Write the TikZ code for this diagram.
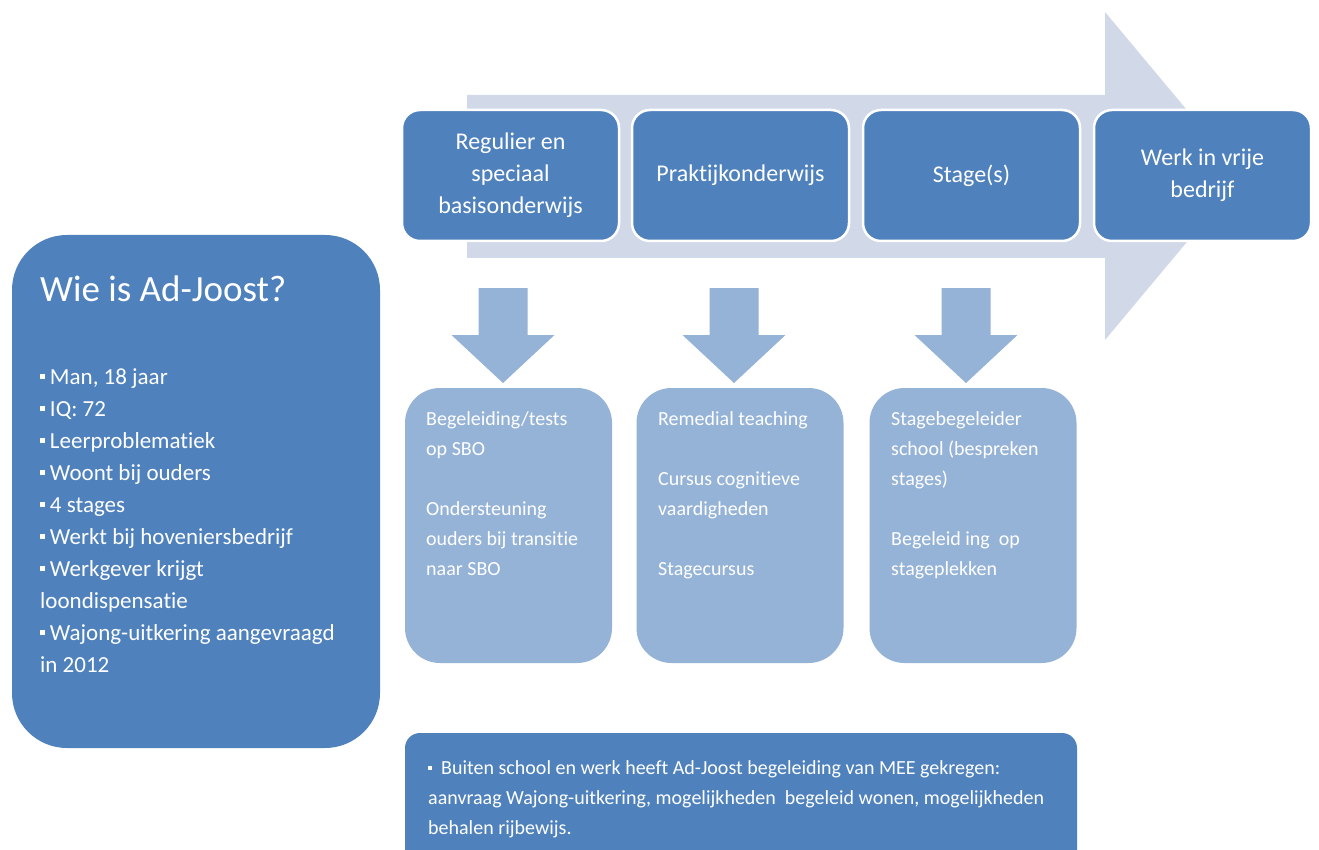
\documentclass[tikz,border=0pt]{standalone}
\usepackage{fontspec}
\setmainfont{Carlito}[Ligatures=NoCommon]
\definecolor{dkblue}{HTML}{4F81BD}
\definecolor{ltblue}{HTML}{95B3D7}
\definecolor{bgarrow}{HTML}{D1D9E8}
\newcommand\mybul{\raisebox{0.22em}{\rule{0.2em}{0.2em}}}
\begin{document}
\begin{tikzpicture}[x=1pt,y=-1pt,
  topbox/.style={draw=white, line width=2.5pt, fill=dkblue, rounded corners=18pt,
    minimum width=217pt, minimum height=131pt, text=white, align=center,
    font=\fontsize{24}{32}\selectfont, inner sep=0pt},
  ltbox/.style={fill=ltblue, rounded corners=35pt, minimum width=207pt,
    minimum height=275pt, inner sep=0pt},
  bigbox/.style={fill=dkblue, rounded corners=55pt, minimum width=368pt,
    minimum height=513pt, inner sep=0pt},
  widebox/.style={fill=dkblue, rounded corners=15pt, minimum width=672pt,
    minimum height=147pt, inner sep=0pt},
  smalltxt/.style={anchor=north west, inner sep=0pt, align=left, text=white,
    font=\fontsize{20}{30}\selectfont},
  downarrow/.style={fill=ltblue}
]
\useasboundingbox[fill=white] (0,0) rectangle (1319,850);

% big background arrow
\fill[bgarrow] (467,95) -- (1105,95) -- (1105,12) -- (1242,176) -- (1105,340)
  -- (1105,258) -- (467,258) -- cycle;

% top boxes
\node[topbox] (t1) at (510.5,175.5) {Regulier en\\speciaal\\basisonderwijs};
\node[topbox] (t2) at (740.5,175.5) {Praktijkonderwijs};
\node[topbox] (t3) at (971.5,175.5) {Stage(s)};
\node[topbox] (t4) at (1202.5,175.5) {Werk in vrije\\bedrijf};

% down arrows
\foreach \cx in {503,734,966}{
  \fill[downarrow] (\cx-24.5,288) -- (\cx+24.5,288) -- (\cx+24.5,335) -- (\cx+51.5,335)
    -- (\cx,383) -- (\cx-51.5,335) -- (\cx-24.5,335) -- cycle;
}

% lower light boxes
\node[ltbox] (b1) at (508.5,525.5) {};
\node[ltbox] (b2) at (740,525.5) {};
\node[ltbox] (b3) at (973,525.5) {};

\node[smalltxt] (b1t) at (426,411) {Begeleiding/tests\\op SBO\\[30pt]Ondersteuning\\ouders bij transitie\\naar SBO};
\node[smalltxt] (b2t) at (658,411) {Remedial teaching\\[30pt]Cursus cognitieve\\vaardigheden\\[30pt]Stagecursus};
\node[smalltxt] (b3t) at (891,411) {Stagebegeleider\\school (bespreken\\stages)\\[30pt]Begeleid ing\ \ op\\stageplekken};

% left box
\node[bigbox] (lb) at (196,491.5) {};
\node[anchor=base west, inner sep=0pt, text=white, font=\fontsize{37}{44}\selectfont] (title) at (40,301) {Wie is Ad-Joost?};
\node[anchor=north west, inner sep=0pt, align=left, text=white, font=\fontsize{23}{32}\selectfont] (facts) at (40,368)
 {\mybul\ Man, 18 jaar\\
  \mybul\ IQ: 72\\
  \mybul\ Leerproblematiek\\
  \mybul\ Woont bij ouders\\
  \mybul\ 4 stages\\
  \mybul\ Werkt bij hoveniersbedrijf\\
  \mybul\ Werkgever krijgt\\
  loondispensatie\\
  \mybul\ Wajong-uitkering aangevraagd\\
  in 2012};

% bottom wide box
\node[widebox] (wb) at (741,806.5) {};
\node[smalltxt] (wbt) at (428,760) {\mybul\ \ Buiten school en werk heeft Ad-Joost begeleiding van MEE gekregen:\\
aanvraag Wajong-uitkering, mogelijkheden\ \ begeleid wonen, mogelijkheden\\
behalen rijbewijs.};
\end{tikzpicture}
\end{document}
